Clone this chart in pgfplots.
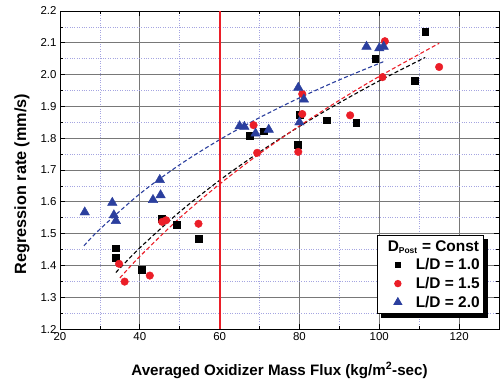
\documentclass[border=0pt]{standalone}
\usepackage{fontspec}
\setmainfont{Liberation Sans}
\usepackage{pgfplots}
\pgfplotsset{compat=1.18}
\usetikzlibrary{shadows}
\definecolor{myblue}{RGB}{43,63,158}
\definecolor{myred}{RGB}{235,30,40}
\definecolor{mgrid}{RGB}{120,120,120}
\definecolor{ngrid}{RGB}{165,165,225}
\begin{document}
\begin{tikzpicture}
\begin{axis}[
 name=ax,
 scale only axis, width=439bp, height=318bp,
 xmin=20, xmax=130, ymin=1.2, ymax=2.2,
 xtick={20,40,...,120}, ytick={1.2,1.3,...,2.2},
 minor x tick num=1, minor y tick num=1,
 tick align=inside,
 major tick length=5bp, minor tick length=3bp,
 grid=both,
 axis line style={line width=0.9bp},
 every tick/.style={black, line width=0.7bp},
 major grid style={mgrid, line width=0.7bp},
 minor grid style={ngrid, dotted, line width=0.6bp},
 yticklabel style={/pgf/number format/.cd, fixed, fixed zerofill, precision=1},
 /pgf/number format/assume math mode=true,
 tick label style={font=\fontsize{11.5}{13}\selectfont},
 xlabel={Averaged Oxidizer Mass Flux (kg/m\textsuperscript{2}-sec)},
 ylabel={Regression rate (mm/s)},
 xlabel style={font=\fontsize{15.2}{17}\selectfont\bfseries, at={(axis description cs:0.5,-0.1447)}, anchor=base},
 ylabel style={font=\fontsize{16.3}{18}\selectfont\bfseries, at={(axis description cs:-0.0774,0.456)}, anchor=base},
 legend style={at={(0.722,0.296)}, anchor=north west, draw=black, line width=0.9bp,
   font=\fontsize{15.5}{17}\selectfont\bfseries, row sep=2bp, inner xsep=2bp, inner ysep=3bp,
   /tikz/every odd column/.append style={column sep=12bp},
   drop shadow={shadow xshift=4bp, shadow yshift=-4bp, fill=black, opacity=1}},
 legend image code/.code={\path (0bp,0bp); \draw[#1] plot coordinates {(18bp,0bp)};},
 legend cell align=left,
]
\addlegendimage{empty legend}
\addlegendentry{\hspace*{-28bp}D\textsubscript{\fontsize{8.5}{9}\selectfont Post} = Const\rule[-6bp]{0pt}{1bp}}
% fits
\addplot[black, dash pattern=on 4bp off 2.5bp, line width=1.1bp, forget plot, smooth] coordinates {
(34,1.3778) (40,1.4551) (50,1.5685) (60,1.6677) (70,1.7564) (80,1.8371) (90,1.9113) (100,1.9804) (111.5,2.0538)};
\addplot[myred, dash pattern=on 4bp off 2.5bp, line width=1.1bp, forget plot, smooth] coordinates {
(35,1.3604) (40,1.4283) (50,1.5492) (60,1.6557) (70,1.7513) (80,1.8387) (90,1.9192) (100,1.9943) (115,2.0985)};
\addplot[myblue, dash pattern=on 4bp off 2.5bp, line width=1.1bp, forget plot, smooth] coordinates {
(26,1.4616) (30,1.5139) (40,1.6249) (50,1.7166) (60,1.7953) (70,1.8647) (80,1.9269) (90,1.9834) (101,2.0404)};
% red vertical line
\addplot[myred, line width=1.8bp, forget plot] coordinates {(60,1.2) (60,2.2)};
% data
\addplot[only marks, mark=square*, mark size=3.3bp, black, legend image post style={mark size=2.7bp}] coordinates {
(34.0,1.454) (34.0,1.424) (40.5,1.386) (45.5,1.546) (49.3,1.528) (54.7,1.484)
(67.5,1.808) (71.1,1.822) (79.5,1.780) (80.0,1.873) (86.8,1.857) (94.2,1.849)
(99.0,2.050) (108.9,1.981) (111.5,2.134)};
\addlegendentry{L/D = 1.0}
\addplot[only marks, mark=*, mark size=3.8bp, myred, legend image post style={mark size=3.2bp}] coordinates {
(34.8,1.405) (36.2,1.349) (42.5,1.368) (45.6,1.537) (46.6,1.542) (54.7,1.531)
(68.5,1.841) (69.4,1.754) (79.7,1.757) (80.7,1.876) (80.7,1.939) (92.7,1.872)
(100.8,1.992) (101.4,2.105) (115.0,2.024)};
\addlegendentry{L/D = 1.5}
\addplot[only marks, mark=triangle*, mark size=5.5bp, myblue, legend image post style={mark size=4.5bp}] coordinates {
(26.2,1.567) (33.1,1.597) (33.5,1.558) (34.0,1.540) (43.3,1.606) (45.2,1.621)
(45.0,1.669) (65.0,1.838) (66.2,1.836) (69.0,1.815) (72.3,1.827) (79.7,1.959)
(81.1,1.922) (80.0,1.850) (96.8,2.088) (100.0,2.083) (101.1,2.088)};
\addlegendentry{L/D = 2.0}
\end{axis}
\pgfresetboundingbox
\path[use as bounding box] ([shift={(-60bp,-54bp)}]ax.south west) rectangle ([shift={(2bp,11bp)}]ax.north east);
\end{tikzpicture}
\end{document}
